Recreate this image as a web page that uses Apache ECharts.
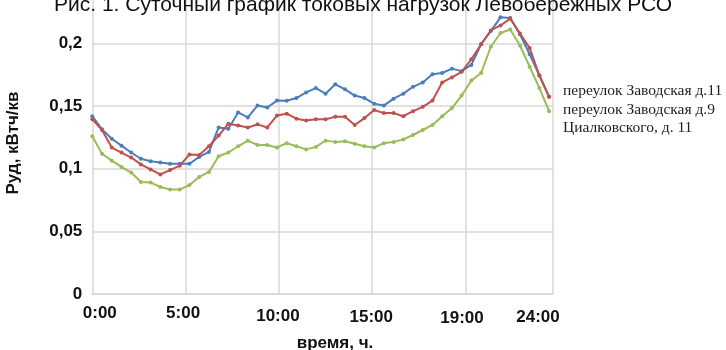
<!DOCTYPE html>
<html>
<head>
<meta charset="utf-8">
<script src="https://cdn.jsdelivr.net/npm/echarts@6/dist/echarts.min.js"></script>
<style>
  html, body { margin: 0; padding: 0; background: #fff; }
  #chart { width: 726px; height: 350px; }
</style>
</head>
<body>
<div id="chart"></div>
<script>
// Half-hourly specific load readings, 0:00 … 23:30
const seriesNames = ['переулок Заводская д.11', 'переулок Заводская д.9', 'Циалковского, д. 11'];

const zavodskaya11 = [
  0.142, 0.1315, 0.124, 0.1185, 0.113, 0.108, 0.106, 0.105, 0.104, 0.104,
  0.104, 0.1095, 0.1135, 0.133, 0.132, 0.145, 0.141, 0.1505, 0.149, 0.1545,
  0.1543, 0.1565, 0.161, 0.1645, 0.160, 0.1675, 0.1635, 0.1585, 0.1565, 0.152,
  0.1505, 0.156, 0.160, 0.1655, 0.169, 0.1755, 0.1765, 0.180, 0.178, 0.183,
  0.1995, 0.210, 0.221, 0.2205, 0.2075, 0.1915, 0.1745, 0.1575
];

const zavodskaya9 = [
  0.1395, 0.131, 0.117, 0.113, 0.109, 0.1035, 0.0995, 0.0955, 0.099, 0.1025,
  0.1115, 0.111, 0.118, 0.1265, 0.136, 0.1345, 0.133, 0.1355, 0.133, 0.1425,
  0.144, 0.140, 0.1385, 0.1395, 0.1395, 0.1415, 0.1415, 0.135, 0.1405, 0.147,
  0.1445, 0.1445, 0.142, 0.146, 0.1495, 0.1545, 0.169, 0.173, 0.1775, 0.1875,
  0.1995, 0.2105, 0.2145, 0.220, 0.208, 0.1965, 0.1745, 0.1575
];

const tsialkovskogo11 = [
  0.126, 0.112, 0.1065, 0.1015, 0.097, 0.0895, 0.089, 0.0855, 0.0835, 0.0835,
  0.087, 0.0935, 0.0975, 0.110, 0.113, 0.118, 0.1225, 0.119, 0.119, 0.117,
  0.1205, 0.118, 0.1155, 0.1175, 0.1225, 0.1215, 0.122, 0.120, 0.118, 0.117,
  0.1205, 0.1215, 0.1235, 0.127, 0.131, 0.135, 0.142, 0.1485, 0.1585, 0.1705,
  0.1765, 0.1975, 0.2085, 0.2113, 0.1985, 0.1815, 0.1645, 0.146
];

const timeTicks = ['0:00', '5:00', '10:00', '15:00', '19:00', '24:00'];

// ---- layout / style ----
const SLOTS_PER_TICK = 9.6;          // grid spacing measured in half-hour slots
const X_MAX = 47.4;                  // right edge of plot, in slots
const colors = ['#4a7ebb', '#c0504d', '#9bbb59'];
const gridColor = '#d9d9d9';
const sansBold = { fontFamily: '"Liberation Sans", Arial, sans-serif', fontWeight: 'bold', fontSize: 17, color: '#111' };
// small per-label nudges [dx, dy] for the time labels
const tickNudge = [[7.5, 0], [-2.5, 0], [-1, 2.5], [-1, 3.5], [-3.5, 5], [-15, 3.5]];

const richTicks = {};
tickNudge.forEach(([dx, dy], k) => {
  richTicks['t' + k] = Object.assign({}, sansBold, {
    padding: [dy, dx < 0 ? -2 * dx : 0, 0, dx > 0 ? 2 * dx : 0]
  });
});

const toPairs = arr => arr.map((v, i) => [i, v]);

const chart = echarts.init(document.getElementById('chart'), null, { renderer: 'canvas' });

chart.setOption({
  backgroundColor: '#fff',
  animation: false,
  color: colors,
  title: {
    text: 'Рис. 1. Суточный график токовых нагрузок Левобережных РСО',
    left: 'center',
    top: -10,
    textStyle: { fontFamily: '"Liberation Sans", Arial, sans-serif', fontWeight: 'normal', fontSize: 21, color: '#111' }
  },
  legend: {
    orient: 'vertical',
    left: 553,
    top: 77,
    itemWidth: 0,
    itemHeight: 0,
    itemGap: 0,
    icon: 'rect',
    itemStyle: { opacity: 0 },
    lineStyle: { width: 0, opacity: 0 },
    textStyle: { fontFamily: '"Liberation Serif", "Times New Roman", serif', fontSize: 15.5, color: '#222', lineHeight: 18.3 },
    data: seriesNames
  },
  grid: { left: 92.3, right: 173, top: -19, bottom: 56, containLabel: false, outerBoundsMode: 'none' },
  xAxis: {
    type: 'value',
    min: 0,
    max: X_MAX,
    interval: SLOTS_PER_TICK,
    axisLine: { show: true, lineStyle: { color: gridColor, width: 1.5 } },
    axisTick: { show: false },
    splitLine: { show: true, lineStyle: { color: gridColor, width: 1.5 } },
    axisLabel: {
      margin: 11,
      showMinLabel: true,
      showMaxLabel: true,
      formatter: v => {
        const k = Math.round(v / SLOTS_PER_TICK);
        return '{t' + k + '|' + timeTicks[k] + '}';
      },
      rich: richTicks
    }
  },
  yAxis: {
    type: 'value',
    min: 0,
    max: 0.25,
    interval: 0.05,
    axisLine: { show: false },
    axisTick: { show: false },
    splitLine: { show: true, lineStyle: { color: gridColor, width: 1.5 } },
    axisLabel: Object.assign({}, sansBold, {
      margin: 10,
      formatter: v => (v === 0 ? '0' : String(+v.toFixed(2)).replace('.', ','))
    })
  },
  graphic: [
    {
      type: 'text', x: 13.5, y: 143, rotation: Math.PI / 2,
      style: { text: 'Руд, кВтч/кв', font: 'bold 17px "Liberation Sans", Arial, sans-serif', fill: '#111', align: 'center', verticalAlign: 'middle' }
    },
    {
      type: 'text', x: 335, y: 343,
      style: { text: 'время, ч.', font: 'bold 17px "Liberation Sans", Arial, sans-serif', fill: '#111', align: 'center', verticalAlign: 'middle' }
    }
  ],
  series: [zavodskaya11, zavodskaya9, tsialkovskogo11].map((vals, i) => ({
    name: seriesNames[i],
    type: 'line',
    data: toPairs(vals),
    symbol: 'circle',
    symbolSize: 4,
    lineStyle: { width: 2, color: colors[i] },
    itemStyle: { color: colors[i] },
    emphasis: { disabled: true }
  }))
});
</script>
</body>
</html>
